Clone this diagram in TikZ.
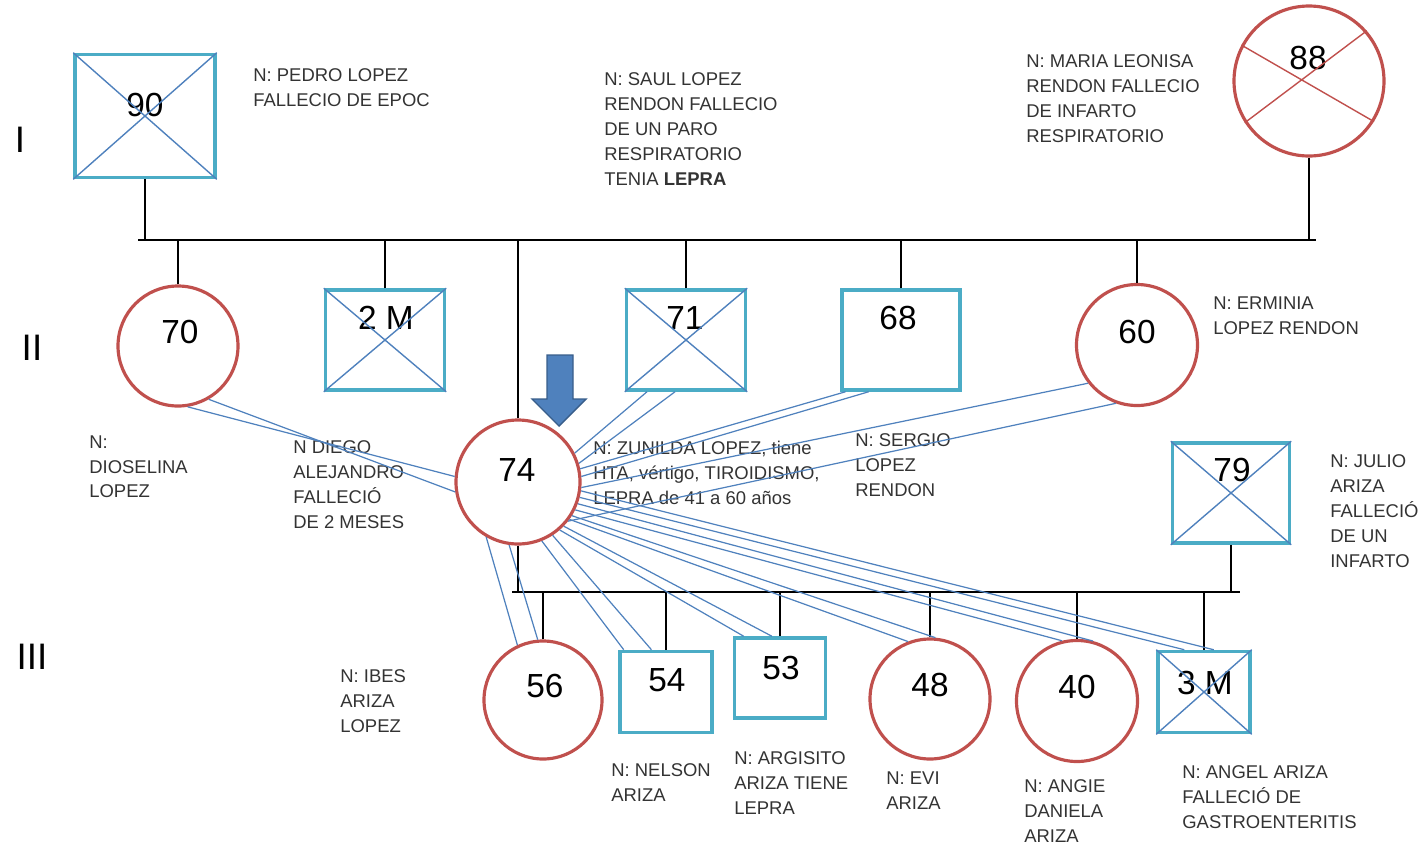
\documentclass[tikz,border=0pt]{standalone}
\usepackage{fontspec}
\setmainfont{Liberation Sans}
\usepackage{tikz}
\usetikzlibrary{arrows.meta,positioning}
\definecolor{ringred}{HTML}{C0504D}
\definecolor{boxcyan}{HTML}{4BACC6}
\definecolor{tieblue}{HTML}{4F81BD}
\definecolor{tipblue}{HTML}{385D8A}
\newcommand{\pxl}{0.02cm}
\tikzset{male/.style={
    % The shape:
    rectangle,
    % The border:
    line width=2pt,
    draw=boxcyan,
    },
    female/.style={
    circle,
    line width=1.8pt,
    draw=ringred,
    },
    num/.style={
    inner sep=0pt,
    font=\fontsize{19}{19}\selectfont,
    },
    note/.style={
    anchor=north west,
    inner sep=0pt,
    align=left,
    text=black!80,
    % Font
    font=\fontsize{10.5}{14.2}\selectfont,
    },
    gen/.style={
    inner sep=0pt,
    font=\fontsize{21}{21}\selectfont,
    },
    kin/.style={draw=black, line width=0.8pt},
    tie/.style={draw=tieblue, line width=0.7pt},
    xout/.style={draw=tieblue, line width=0.8pt},
    xoutred/.style={draw=ringred, line width=0.8pt},
    proband/.style={fill=tieblue, draw=tipblue, line width=0.8pt},
}

\begin{document}
\begin{tikzpicture}[x=\pxl, y=-\pxl]
    \useasboundingbox (0,0) rectangle (1428,846);

    \node (g1) [gen] at (20,140) {I};
    \node (g2) [gen] at (32,348) {II};
    \node (g3) [gen] at (32,657) {III};

    % generation I
    \node (b90) [male, minimum width=140*\pxl, minimum height=123*\pxl] at (145,116) {};
    \node (c88) [female, minimum size=150*\pxl] at (1309,81) {};

    % generation II
    \node (c70) [female, minimum size=120*\pxl] at (178,346) {};
    \node (b2M) [male, minimum width=119*\pxl, minimum height=100*\pxl] at (385,340) {};
    \node (b71) [male, minimum width=119*\pxl, minimum height=100*\pxl] at (686,340) {};
    \node (b68) [male, minimum width=118*\pxl, minimum height=100*\pxl] at (901,340) {};
    \node (c60) [female, minimum size=121*\pxl] at (1137,345) {};
    \node (c74) [female, minimum size=124*\pxl] at (518,482) {};
    \node (b79) [male, minimum width=117*\pxl, minimum height=100*\pxl] at (1231,493) {};

    % generation III
    \node (c56) [female, minimum size=118*\pxl] at (543,700) {};
    \node (b54) [male, minimum width=92*\pxl, minimum height=81*\pxl] at (666,692) {};
    \node (b53) [male, minimum width=91*\pxl, minimum height=80*\pxl] at (780,678) {};
    \node (c48) [female, minimum size=120*\pxl] at (930,699) {};
    \node (c40) [female, minimum size=121*\pxl] at (1077,701) {};
    \node (b3M) [male, minimum width=92*\pxl, minimum height=81*\pxl] at (1204,692) {};

    % ages
    \node (n90) [num] at (145,105) {90};
    \node (n88) [num] at (1308,58) {88};
    \node (n70) [num] at (180,332) {70};
    \node (n2M) [num] at (386,318) {2 M};
    \node (n71) [num] at (685,318) {71};
    \node (n68) [num] at (898,318) {68};
    \node (n60) [num] at (1137,332) {60};
    \node (n74) [num] at (517,470) {74};
    \node (n79) [num] at (1232,470) {79};
    \node (n56) [num] at (545,686) {56};
    \node (n54) [num] at (667,680) {54};
    \node (n53) [num] at (781,668) {53};
    \node (n48) [num] at (930,685) {48};
    \node (n40) [num] at (1077,687) {40};
    \node (n3M) [num] at (1205,683) {3 M};

    % deceased
    \draw[xout] (b90.north west) -- (b90.south east) (b90.south west) -- (b90.north east);
    \draw[xout] (b2M.north west) -- (b2M.south east) (b2M.south west) -- (b2M.north east);
    \draw[xout] (b71.north west) -- (b71.south east) (b71.south west) -- (b71.north east);
    \draw[xout] (b79.north west) -- (b79.south east) (b79.south west) -- (b79.north east);
    \draw[xout] (b3M.north west) -- (b3M.south east) (b3M.south west) -- (b3M.north east);
    \draw[xoutred] (c88.152) -- (c88.328) (c88.213) -- (c88.41);

    % family lines
    \coordinate (bar1w) at (138,240);
    \coordinate (bar1e) at (1316,240);
    \coordinate (bar2w) at (512,592);
    \coordinate (bar2e) at (1240,592);
    \draw[kin] (bar1w) -- (bar1e);
    \draw[kin] (b90.south) -- (b90.south |- bar1w);
    \draw[kin] (c88.south) -- (c88.south |- bar1w);
    \draw[kin] (c70.north) -- (c70.north |- bar1w);
    \draw[kin] (b2M.north) -- (b2M.north |- bar1w);
    \draw[kin] (c74.north) -- (c74.north |- bar1w);
    \draw[kin] (b71.north) -- (b71.north |- bar1w);
    \draw[kin] (b68.north) -- (b68.north |- bar1w);
    \draw[kin] (c60.north) -- (c60.north |- bar1w);
    \draw[kin] (bar2w) -- (bar2e);
    \draw[kin] (c74.south) -- (c74.south |- bar2w);
    \draw[kin] (b79.south) -- (b79.south |- bar2w);
    \draw[kin] (c56.north) -- (c56.north |- bar2w);
    \draw[kin] (b54.north) -- (b54.north |- bar2w);
    \draw[kin] (b53.north) -- (b53.north |- bar2w);
    \draw[kin] (c48.north) -- (c48.north |- bar2w);
    \draw[kin] (c40.north) -- (c40.north |- bar2w);
    \draw[kin] (b3M.north) -- (b3M.north |- bar2w);

    % names
    \node (lPedro) [note] at (253,68) {N: PEDRO LOPEZ\\FALLECIO DE EPOC};
    \node (lSaul) [note] at (604,72) {N: SAUL LOPEZ\\RENDON FALLECIO\\DE UN PARO\\RESPIRATORIO\\TENIA \textbf{LEPRA}};
    \node (lMaria) [note] at (1026,54) {N: MARIA LEONISA\\RENDON FALLECIO\\DE INFARTO\\RESPIRATORIO};
    \node (lErminia) [note] at (1213,296) {N: ERMINIA\\LOPEZ RENDON};
    \node (lDioselina) [note] at (89,435) {N:\\DIOSELINA\\LOPEZ};
    \node (lDiego) [note] at (293,440) {N DIEGO\\ALEJANDRO\\FALLECIÓ\\DE 2 MESES};
    \node (lZunilda) [note] at (593,441) {N: ZUNILDA LOPEZ, tiene\\HTA, vértigo, TIROIDISMO,\\LEPRA de 41 a 60 años};
    \node (lSergio) [note] at (855,433) {N: SERGIO\\LOPEZ\\RENDON};
    \node (lJulio) [note] at (1330,454) {N: JULIO\\ARIZA\\FALLECIÓ\\DE UN\\INFARTO};
    \node (lIbes) [note] at (340,669) {N: IBES\\ARIZA\\LOPEZ};
    \node (lNelson) [note] at (611,763) {N: NELSON\\ARIZA};
    \node (lArgisito) [note] at (734,751) {N: ARGISITO\\ARIZA TIENE\\LEPRA};
    \node (lEvi) [note] at (886,771) {N: EVI\\ARIZA};
    \node (lAngie) [note] at (1024,779) {N: ANGIE\\DANIELA\\ARIZA};
    \node (lAngel) [note] at (1182,765) {N: ANGEL ARIZA\\FALLECIÓ DE\\GASTROENTERITIS};

    % close ties of the index person
    \draw[tie] (c74.175) -- (c70.279);
    \draw[tie] (c74.189) -- (c70.300);
    \draw[tie] (c74.27) -- (b71.233);
    \draw[tie] (c74.17) -- (b71.258);
    \draw[tie] (c74.12) -- (b68.223);
    \draw[tie] (c74.5) -- (b68.238);
    \draw[tie] (c74.355) -- (c60.218);
    \draw[tie] (c74.322) -- (c60.250);
    \draw[tie] (c74.240) -- (c56.115);
    \draw[tie] (c74.262) -- (c56.95);
    \draw[tie] (c74.292) -- (b54.135);
    \draw[tie] (c74.303) -- (b54.109);
    \draw[tie] (c74.311) -- (b53.131);
    \draw[tie] (c74.316) -- (b53.101);
    \draw[tie] (c74.324) -- (c48.111);
    \draw[tie] (c74.328) -- (c48.85);
    \draw[tie] (c74.334) -- (c40.104);
    \draw[tie] (c74.340) -- (c40.75);
    \draw[tie] (c74.346) -- (b3M.115);
    \draw[tie] (c74.352) -- (b3M.77);

    % index person
    \filldraw[proband] (547,355) -- (573,355) -- (573,399) -- (586,399) -- (559,426)
        -- (532,399) -- (547,399) -- cycle;
\end{tikzpicture}
\end{document}
